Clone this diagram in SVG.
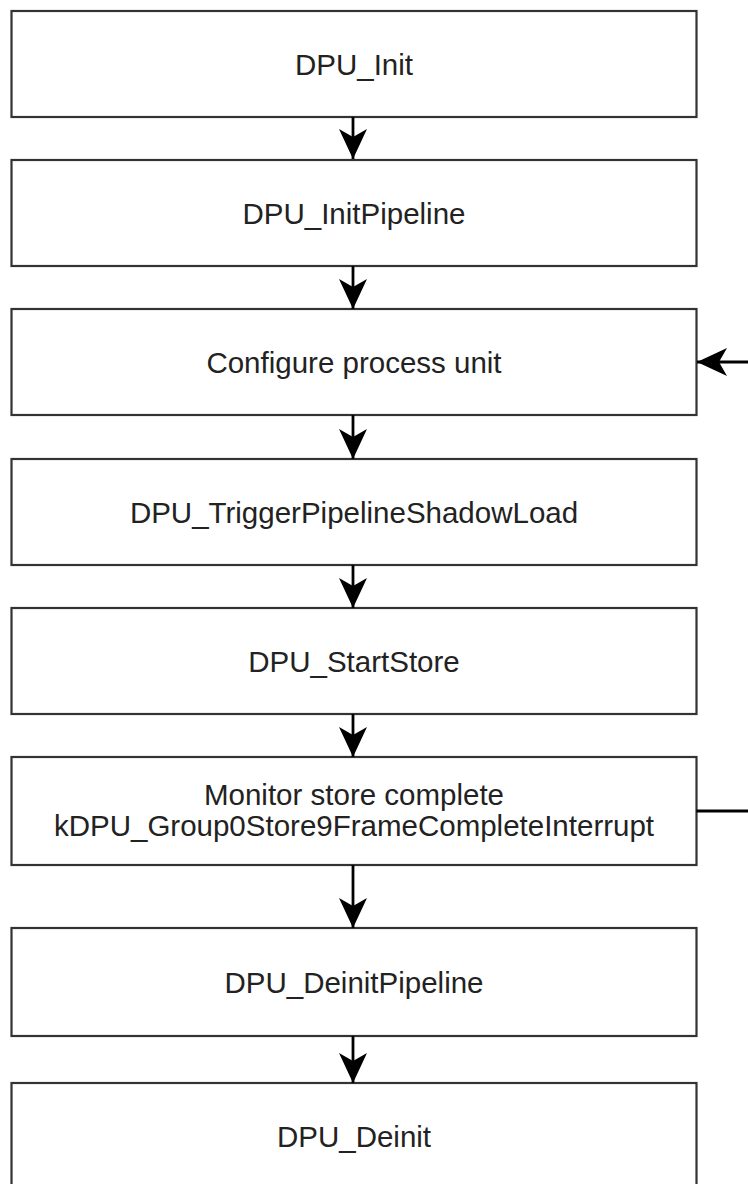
<svg xmlns="http://www.w3.org/2000/svg" width="748" height="1184" viewBox="0 0 748 1184">
  <style>
    .box { fill: #ffffff; stroke: #333333; stroke-width: 2.2; }
    .lbl { font-family: "Liberation Sans", Arial, sans-serif; font-size: 29.5px; fill: #222222; text-anchor: middle; }
    .edge { fill: none; stroke: #000000; stroke-width: 2.8; }
  </style>
  <defs>
    <marker id="arrow" markerUnits="userSpaceOnUse" viewBox="0 0 30 28" refX="30" refY="14" markerWidth="30" markerHeight="28" orient="auto">
      <path d="M0,0 L30,14 L0,28 L8,14 Z" fill="#000000"/>
    </marker>
  </defs>
  <rect width="748" height="1184" fill="#ffffff"/>

  <!-- process steps -->
  <g id="node-init">
    <rect class="box" x="11.5" y="11" width="685" height="106"/>
    <text class="lbl" x="354" y="75">DPU_Init</text>
  </g>
  <g id="node-init-pipeline">
    <rect class="box" x="11.5" y="160" width="685" height="106"/>
    <text class="lbl" x="354" y="224">DPU_InitPipeline</text>
  </g>
  <g id="node-configure">
    <rect class="box" x="11.5" y="309" width="685" height="106"/>
    <text class="lbl" x="354" y="373">Configure process unit</text>
  </g>
  <g id="node-shadow-load">
    <rect class="box" x="11.5" y="459" width="685" height="106"/>
    <text class="lbl" x="354" y="523">DPU_TriggerPipelineShadowLoad</text>
  </g>
  <g id="node-start-store">
    <rect class="box" x="11.5" y="608" width="685" height="106"/>
    <text class="lbl" x="354" y="672">DPU_StartStore</text>
  </g>
  <g id="node-monitor">
    <rect class="box" x="11.5" y="757" width="685" height="108"/>
    <text class="lbl" x="354" y="805">Monitor store complete</text>
    <text class="lbl" x="354" y="836">kDPU_Group0Store9FrameCompleteInterrupt</text>
  </g>
  <g id="node-deinit-pipeline">
    <rect class="box" x="11.5" y="928" width="685" height="108"/>
    <text class="lbl" x="354" y="993">DPU_DeinitPipeline</text>
  </g>
  <g id="node-deinit">
    <rect class="box" x="11.5" y="1083" width="685" height="108"/>
    <text class="lbl" x="354" y="1147">DPU_Deinit</text>
  </g>

  <!-- connectors -->
  <g id="connectors">
    <path class="edge" d="M353,117 V159" marker-end="url(#arrow)"/>
    <path class="edge" d="M353,266 V309" marker-end="url(#arrow)"/>
    <path class="edge" d="M353,415 V459" marker-end="url(#arrow)"/>
    <path class="edge" d="M353,565 V608" marker-end="url(#arrow)"/>
    <path class="edge" d="M353,714 V757" marker-end="url(#arrow)"/>
    <path class="edge" d="M353,865 V928" marker-end="url(#arrow)"/>
    <path class="edge" d="M353,1036 V1083" marker-end="url(#arrow)"/>
    <!-- loop back from monitor to configure, routed past the right edge -->
    <path class="edge" d="M696.5,811 H770 V362 H697" marker-end="url(#arrow)"/>
  </g>
</svg>
